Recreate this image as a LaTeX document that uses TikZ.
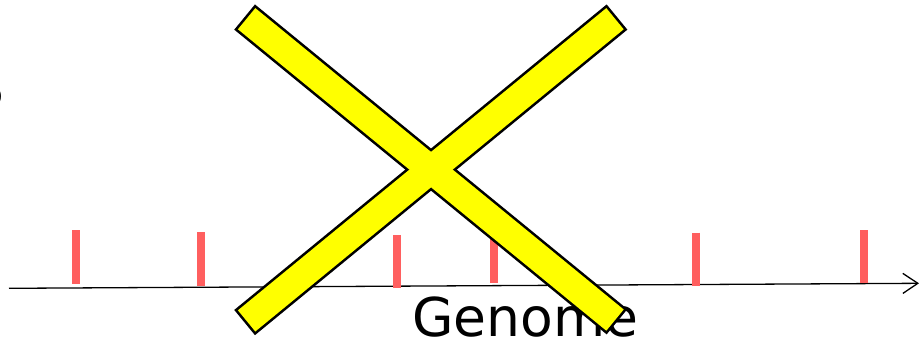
\documentclass[tikz,border=0pt]{standalone}
\usepackage{fontspec}
\setmainfont{DejaVu Sans}
\usetikzlibrary{arrows.meta}
\definecolor{tickred}{RGB}{255,95,95}
\definecolor{xyellow}{RGB}{255,255,0}
\tikzset{
  genetick/.style={draw=tickred, line width=8.3pt},
  axisline/.style={draw=black, line width=1.3pt, -{Straight Barb[length=15pt,width=20pt,line width=1.3pt]}},
  bigtext/.style={inner sep=0pt, font=\fontsize{53.5}{60}\selectfont},
  baroutline/.style={draw=black, line width=5.2pt, line join=miter},
  barfill/.style={fill=xyellow}
}
\begin{document}
\begin{tikzpicture}[x=1pt,y=-1pt]
\useasboundingbox (0,0) rectangle (920,343);
% axis
\coordinate (axs) at (9,288.3);
\coordinate (axe) at (919,283.3);
\draw[axisline] (axs) -- (axe);
% ticks
\draw[genetick] (76,230) -- (76,283.7);
\draw[genetick] (201,232.3) -- (201,286);
\draw[genetick] (396.7,235) -- (396.7,288);
\draw[genetick] (494.3,236) -- (494.3,283.3);
\draw[genetick] (695.8,232.7) -- (695.8,286);
\draw[genetick] (864,230) -- (864,283.3);
% texts
\node[bigtext, anchor=base west] (genome) at (412,336.7) {Genome};
\node[bigtext, anchor=base east] (partial) at (4.5,107) {S};
% the X
\coordinate (a1) at (255.3,8.1);
\coordinate (a2) at (237.9,29.3);
\coordinate (a3) at (606.3,330.7);
\coordinate (a4) at (623.7,309.5);
\coordinate (b1) at (606.3,8.1);
\coordinate (b2) at (623.7,29.3);
\coordinate (b3) at (255.3,331.5);
\coordinate (b4) at (237.9,310.3);
\path[baroutline] (a1) -- (a2) -- (a3) -- (a4) -- cycle;
\path[baroutline] (b1) -- (b2) -- (b3) -- (b4) -- cycle;
\path[barfill] (a1) -- (a2) -- (a3) -- (a4) -- cycle;
\path[barfill] (b1) -- (b2) -- (b3) -- (b4) -- cycle;
\end{tikzpicture}
\end{document}
